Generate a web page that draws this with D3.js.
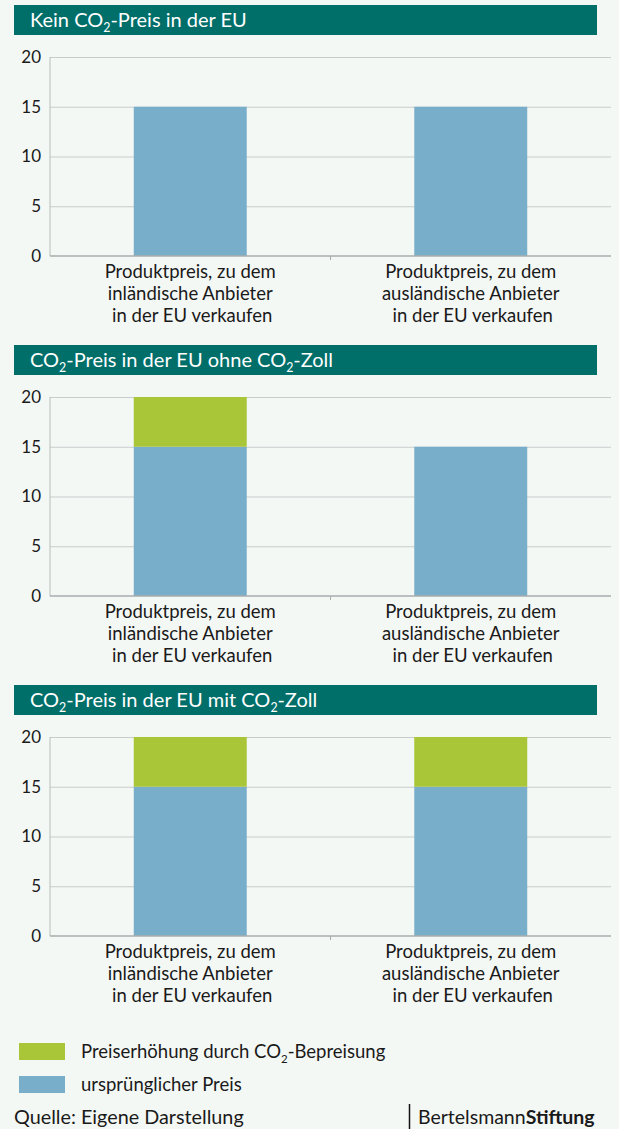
<!DOCTYPE html>
<html lang="de">
<head>
<meta charset="utf-8">
<title>CO2-Preis und CO2-Zoll</title>
<script src="https://cdn.jsdelivr.net/npm/d3@7"></script>
<style>
  body { margin: 0; background: #f4f8f5; font-family: Lato, "Open Sans", sans-serif; }
  svg text { font-family: Lato, "Open Sans", sans-serif; }
  .grid line { stroke: #c8cccc; stroke-width: 1; }
  .grid path { display: none; }
  .yaxis text { font-size: 17px; fill: #1a1a1a; font-family: Lato, sans-serif; }
  .yaxis path, .yaxis line { display: none; }
</style>
</head>
<body>
<script>
// panel titles (parts: [text, subscript?])
var titles = [
  [["Kein CO", false], ["2", true], ["-Preis in der EU", false]],
  [["CO", false], ["2", true], ["-Preis in der EU ohne CO", false], ["2", true], ["-Zoll", false]],
  [["CO", false], ["2", true], ["-Preis in der EU mit CO", false], ["2", true], ["-Zoll", false]]
];
var categories = ["inland", "ausland"];
var categoryLabels = [
  ["Produktpreis, zu dem", "inländische Anbieter", "in der EU verkaufen"],
  ["Produktpreis, zu dem", "ausländische Anbieter", "in der EU verkaufen"]
];
// values per panel, per category
var basePrice = [[15, 15], [15, 15], [15, 15]];
var co2Increase = [[0, 0], [5, 0], [5, 5]];
var yTicks = [0, 5, 10, 15, 20];
var legendItems = ["increase", "base"];

var colors = { base: "#79aecb", increase: "#a9c639" };

var W = 619, H = 1129;
var svg = d3.select("body").append("svg")
  .attr("width", W).attr("height", H);

var plotLeft = 50, plotRight = 611;
var x = d3.scaleBand().domain(categories).range([plotLeft, plotRight]).paddingInner(0).paddingOuter(0);
var barW = 113;

function addTitle(g, parts, tx, ty, size) {
  var t = g.append("text").attr("x", tx).attr("y", ty).attr("font-size", size);
  parts.forEach(function(p) {
    if (p[1]) {
      t.append("tspan").attr("dy", 5).attr("font-size", size * 0.62).text(p[0]);
    } else {
      var s = t.append("tspan").text(p[0]);
      if (t.selectAll("tspan").size() > 1) s.attr("dy", -5);
    }
  });
  return t;
}

titles.forEach(function(title, i) {
  var g = svg.append("g").attr("transform", "translate(0," + (i * 340) + ")");

  // header bar
  g.append("rect").attr("x", 14).attr("y", 5).attr("width", 583).attr("height", 30)
    .attr("fill", "#006e69");
  addTitle(g, title, 30, 27, 20).attr("fill", "#ffffff");

  var y = d3.scaleLinear().domain([0, 20]).range([256, 57]);

  // grid
  g.append("g").attr("class", "grid")
    .attr("transform", "translate(" + plotLeft + ",0)")
    .call(d3.axisRight(y).tickValues(yTicks.slice(1)).tickSize(plotRight - plotLeft).tickFormat(""));

  g.append("g").attr("class", "yaxis")
    .attr("transform", "translate(" + (plotLeft - 9) + ",0)")
    .call(d3.axisLeft(y).tickValues(yTicks).tickSize(0).tickPadding(0));

  // left axis line
  g.append("line").attr("x1", plotLeft).attr("x2", plotLeft)
    .attr("y1", y(20)).attr("y2", y(0)).attr("stroke", "#b8bcbc");

  // bars
  categories.forEach(function(c, j) {
    var cx = x(c) + x.bandwidth() / 2;
    var b = basePrice[i][j], inc = co2Increase[i][j];
    g.append("rect").attr("x", cx - barW / 2).attr("width", barW)
      .attr("y", y(b)).attr("height", y(0) - y(b)).attr("fill", colors.base);
    if (inc > 0) {
      g.append("rect").attr("x", cx - barW / 2).attr("width", barW)
        .attr("y", y(b + inc)).attr("height", y(b) - y(b + inc)).attr("fill", colors.increase);
    }
    var lab = g.append("text").attr("text-anchor", "middle").attr("font-size", 18.5)
      .attr("fill", "#1a1a1a");
    categoryLabels[j].forEach(function(line, k) {
      lab.append("tspan").attr("x", cx + (k == 2 ? 2 : 0)).attr("y", 278 + k * 22).text(line);
    });
  });

  // bottom axis
  g.append("line").attr("x1", plotLeft).attr("x2", plotRight)
    .attr("y1", y(0)).attr("y2", y(0)).attr("stroke", "#a8acac").attr("stroke-width", 1.5);
  g.append("line").attr("x1", (plotLeft + plotRight) / 2).attr("x2", (plotLeft + plotRight) / 2)
    .attr("y1", y(0)).attr("y2", y(0) + 4).attr("stroke", "#a8acac");
});

// legend
var legend = svg.append("g");
legendItems.forEach(function(k, i) {
  var ly = 1043 + i * 33;
  legend.append("rect").attr("x", 19).attr("y", ly).attr("width", 46).attr("height", 17)
    .attr("fill", colors[k]);
  if (k === "increase") {
    addTitle(legend, [["Preiserhöhung durch CO", false], ["2", true], ["-Bepreisung", false]], 81, ly + 15, 18.5)
      .attr("fill", "#1a1a1a");
  } else {
    legend.append("text").attr("x", 81).attr("y", ly + 15).attr("font-size", 18.5)
      .attr("fill", "#1a1a1a").text("ursprünglicher Preis");
  }
});

// footer
svg.append("text").attr("x", 14).attr("y", 1124).attr("font-size", 19.8).attr("fill", "#1a1a1a")
  .text("Quelle: Eigene Darstellung");
svg.append("line").attr("x1", 409.5).attr("x2", 409.5).attr("y1", 1104).attr("y2", 1129)
  .attr("stroke", "#111").attr("stroke-width", 1.5);
var brand = svg.append("text").attr("x", 418).attr("y", 1124).attr("font-size", 19.5).attr("fill", "#1a1a1a");
brand.append("tspan").text("Bertelsmann");
brand.append("tspan").attr("font-weight", "bold").text("Stiftung");
</script>
</body>
</html>
